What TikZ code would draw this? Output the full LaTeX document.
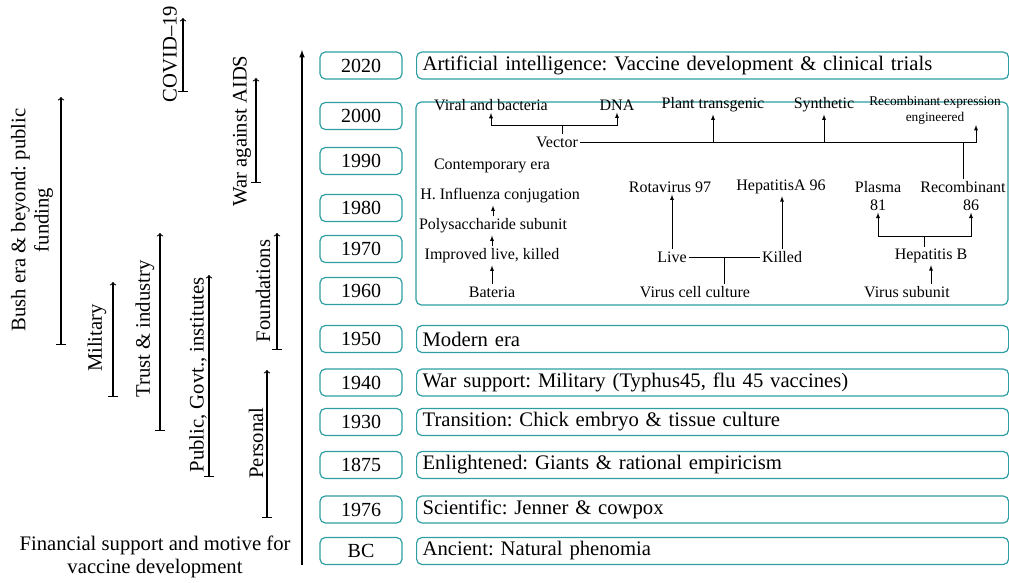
\documentclass[tikz,border=0pt]{standalone}
\usepackage{fontspec}
\setmainfont{Liberation Serif}
\usetikzlibrary{arrows}
\frenchspacing

\definecolor{boxteal}{RGB}{46,158,162}

\begin{document}
\begin{tikzpicture}[x=0.75pt, y=-0.75pt,
    year box/.style={draw=boxteal, line width=0.9pt, rounded corners=4pt,
                     minimum width=61.5pt, minimum height=20.25pt, inner sep=0pt,
                     font=\fontsize{15}{17}\selectfont},
    era box/.style={draw=boxteal, line width=0.9pt, rounded corners=4pt, anchor=west,
                    text width=435pt, align=left, inner xsep=4.5pt, inner ysep=0pt,
                    minimum height=20.25pt, font=\fontsize{15.5}{17}\selectfont},
    item/.style={inner sep=1.5pt, font=\fontsize{12}{14}\selectfont},
    span label/.style={rotate=90, align=center, inner sep=0pt,
                       font=\fontsize{15.5}{17.5}\selectfont}]

\useasboundingbox (0,0) rectangle (1009,582);

% time axis
\draw[-latex, line width=0.9pt] (302,565) -- (302,50);

% years
\node[year box](y2020) at (361,65.5) {2020};
\node[year box](y2000) at (361,116) {2000};
\node[year box](y1990) at (361,161) {1990};
\node[year box](y1980) at (361,208) {1980};
\node[year box](y1970) at (361,249) {1970};
\node[year box](y1960) at (361,291) {1960};
\node[year box](y1950) at (361,339) {1950};
\node[year box](y1940) at (361,382.5) {1940};
\node[year box](y1930) at (361,422) {1930};
\node[year box](y1875) at (361,465) {1875};
\node[year box](y1976) at (361,509.5) {1976};
\node[year box](yBC) at (361,551) {BC};

% eras
\node[era box](e2020) at (416,65.5) {Artificial intelligence: Vaccine development \& clinical trials};
\node[era box](e1950) at (416,339) {Modern era};
\node[era box](e1940) at (416,382.5) {War support: Military (Typhus45, flu 45 vaccines)};
\node[era box](e1930) at (416,422) {Transition: Chick embryo \& tissue culture};
\node[era box](e1875) at (416,465) {Enlightened: Giants \& rational empiricism};
\node[era box](e1976) at (416,509.5) {Scientific: Jenner \& cowpox};
\node[era box](eBC) at (416,551) {Ancient: Natural phenomia};

% contemporary era box
\draw[draw=boxteal, line width=0.9pt, rounded corners=4pt] (416,102) rectangle (1008,305);

\node[item](viral) at (491,105) {Viral and bacteria};
\node[item](dna) at (617,105) {DNA};
\node[item](plant) at (713,105) {Plant transgenic};
\node[item](synth) at (824,105) {Synthetic};
\node[item, align=center, font=\fontsize{10}{12}\selectfont](eng) at (935,110)
    {Recombinant expression\\engineered};
\node[item](vec) at (557,142) {Vector};
\node[item](contemp) at (492,166) {Contemporary era};
\node[item](hinf) at (500,196) {H. Influenza conjugation};
\node[item](poly) at (493,226) {Polysaccharide subunit};
\node[item](impr) at (492,256) {Improved live, killed};
\node[item](bat) at (492,292) {Bateria};
\node[item](rota) at (670,187) {Rotavirus 97};
\node[item](hepa) at (781,187) {HepatitisA 96};
\node[item](live) at (672,257) {Live};
\node[item](killed) at (782,257) {Killed};
\node[item](vcc) at (695,292) {Virus cell culture};
\node[item](plasma) at (878,187) {Plasma};
\node[item](rec) at (963,187) {Recombinant};
\node[item](n81) at (878,205) {81};
\node[item](n86) at (971,205) {86};
\node[item](hepb) at (931,256) {Hepatitis B};
\node[item](vsub) at (907,292) {Virus subunit};

\coordinate (vbr) at (562,125);
\coordinate (engtip) at (976,125);
\coordinate (lk) at (724,257);
\coordinate (hb) at (924,236);

\draw (vbr) -- (vbr |- vec.north);
\draw[-latex] (vbr) -| (viral.south);
\draw[-latex] (vbr) -| (dna.south);
\draw (rec.north) |- (vec.east);
\draw[-latex] (plant.south |- vec.east) -- (plant.south);
\draw[-latex] (synth.south |- vec.east) -- (synth.south);
\draw[-latex] (rec.north |- vec.east) -| (engtip);

\draw[-latex] (bat.north) -- (bat.north |- impr.south);
\draw[-latex] (impr.north) -- (impr.north |- poly.south);
\draw[-latex] (poly.north) -- (poly.north |- hinf.south);

\draw (live) -- (killed);
\draw (lk) -- (lk |- vcc.north);
\draw[-latex] (live.north) -- (live.north |- rota.south);
\draw[-latex] (killed.north) -- (killed.north |- hepa.south);

\draw (hb) -- (hb |- hepb.north);
\draw[-latex] (hb) -| (n81.south);
\draw[-latex] (hb) -| (n86.south);
\draw[-latex] (vsub.north -| hepb.south) -- (hepb.south);

% financial support spans
\draw[|->, line width=0.8pt] (61,345) -- (61,97);
\draw[|->, line width=0.8pt] (113,397) -- (113,282);
\draw[|->, line width=0.8pt] (160,431) -- (160,233);
\draw[|->, line width=0.8pt] (209,477) -- (209,275);
\draw[|->, line width=0.8pt] (267,518) -- (267,370);
\draw[|->, line width=0.8pt] (277,350) -- (277,233);
\draw[|->, line width=0.8pt] (256,183) -- (256,78);
\draw[|->, line width=0.8pt] (183,92) -- (183,18);

\node[span label](bush) at (32,220) {Bush era \& beyond: public\\funding};
\node[span label](mil) at (97,338) {Military};
\node[span label](trust) at (145,329) {Trust \& industry};
\node[span label](pub) at (198,375) {Public, Govt., institutes};
\node[span label](pers) at (256,443) {Personal};
\node[span label](found) at (263,291) {Foundations};
\node[span label](aids) at (242,131) {War against AIDS};
\node[span label](covid) at (170,54) {COVID–19};

\node[align=center, font=\fontsize{15.5}{17.5}\selectfont](fin) at (155,557)
    {Financial support and motive for\\vaccine development};

\end{tikzpicture}
\end{document}
